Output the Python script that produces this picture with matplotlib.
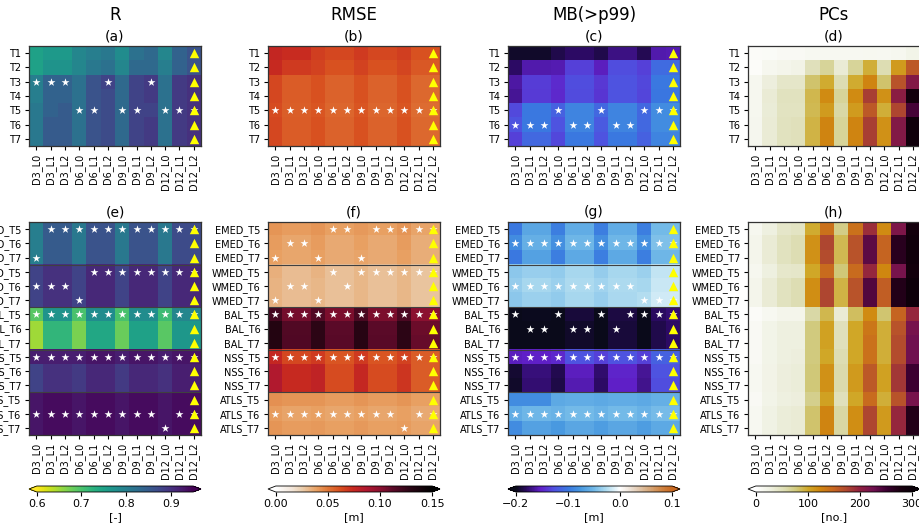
import numpy as np
import matplotlib
matplotlib.use('Agg')
import matplotlib.pyplot as plt
from matplotlib.colors import LinearSegmentedColormap, Normalize

# ---------------- data ----------------
col_labels = ['D3_L0', 'D3_L1', 'D3_L2', 'D6_L0', 'D6_L1', 'D6_L2',
              'D9_L0', 'D9_L1', 'D9_L2', 'D12_L0', 'D12_L1', 'D12_L2']
top_rows = ['T1', 'T2', 'T3', 'T4', 'T5', 'T6', 'T7']
regions = ['EMED', 'WMED', 'BAL', 'NSS', 'ATLS']
region_T = ['T5', 'T6', 'T7']
bot_rows = [f'{r}_{t}' for r in regions for t in region_T]

col_titles = ['R', 'RMSE', 'MB(>p99)', 'PCs']
top_letters = ['(a)', '(b)', '(c)', '(d)']
bot_letters = ['(e)', '(f)', '(g)', '(h)']
cbar_units = ['[-]', '[m]', '[m]', '[no.]']

R_top = [
    [0.75, 0.76, 0.76, 0.79, 0.80, 0.81, 0.78, 0.82, 0.83, 0.79, 0.84, 0.86],
    [0.75, 0.77, 0.77, 0.79, 0.81, 0.82, 0.79, 0.83, 0.83, 0.80, 0.84, 0.86],
    [0.80, 0.84, 0.84, 0.82, 0.86, 0.88, 0.83, 0.88, 0.89, 0.82, 0.89, 0.90],
    [0.80, 0.84, 0.84, 0.82, 0.86, 0.87, 0.83, 0.88, 0.89, 0.82, 0.89, 0.90],
    [0.81, 0.84, 0.85, 0.82, 0.86, 0.87, 0.83, 0.88, 0.88, 0.82, 0.89, 0.90],
    [0.81, 0.85, 0.85, 0.82, 0.86, 0.87, 0.83, 0.88, 0.89, 0.82, 0.89, 0.90],
    [0.81, 0.85, 0.85, 0.82, 0.86, 0.87, 0.83, 0.88, 0.89, 0.82, 0.89, 0.90],
]
RMSE_top = [
    [0.076, 0.073, 0.073, 0.067, 0.064, 0.064, 0.068, 0.064, 0.064, 0.067, 0.061, 0.061],
    [0.074, 0.068, 0.068, 0.066, 0.061, 0.061, 0.066, 0.061, 0.061, 0.065, 0.059, 0.059],
    [0.064, 0.058, 0.058, 0.061, 0.056, 0.056, 0.061, 0.056, 0.056, 0.061, 0.054, 0.054],
    [0.064, 0.058, 0.058, 0.061, 0.056, 0.056, 0.061, 0.056, 0.056, 0.061, 0.054, 0.054],
    [0.063, 0.057, 0.057, 0.060, 0.055, 0.055, 0.060, 0.055, 0.055, 0.060, 0.053, 0.053],
    [0.064, 0.058, 0.058, 0.061, 0.056, 0.056, 0.061, 0.056, 0.056, 0.061, 0.054, 0.054],
    [0.064, 0.058, 0.058, 0.061, 0.056, 0.056, 0.061, 0.056, 0.056, 0.061, 0.054, 0.054],
]
MB_top = [
    [-0.195, -0.195, -0.195, -0.185, -0.178, -0.178, -0.185, -0.170, -0.170, -0.183, -0.160, -0.158],
    [-0.178, -0.160, -0.160, -0.158, -0.135, -0.135, -0.155, -0.128, -0.128, -0.135, -0.108, -0.108],
    [-0.162, -0.137, -0.137, -0.147, -0.128, -0.128, -0.140, -0.124, -0.124, -0.132, -0.100, -0.100],
    [-0.165, -0.138, -0.138, -0.148, -0.129, -0.129, -0.141, -0.125, -0.125, -0.133, -0.101, -0.101],
    [-0.130, -0.100, -0.100, -0.115, -0.090, -0.090, -0.110, -0.090, -0.090, -0.110, -0.085, -0.085],
    [-0.125, -0.100, -0.100, -0.124, -0.090, -0.090, -0.120, -0.090, -0.090, -0.110, -0.085, -0.085],
    [-0.135, -0.110, -0.110, -0.132, -0.100, -0.100, -0.125, -0.100, -0.100, -0.115, -0.090, -0.090],
]
PC_top = [
    [6, 8, 10, 10, 12, 12, 12, 12, 14, 12, 15, 20],
    [5, 15, 18, 22, 50, 65, 35, 65, 95, 55, 110, 160],
    [15, 30, 42, 42, 82, 98, 55, 98, 125, 82, 165, 210],
    [15, 35, 48, 48, 90, 120, 65, 120, 180, 115, 205, 285],
    [15, 33, 46, 46, 88, 108, 60, 108, 160, 95, 175, 245],
    [16, 35, 48, 50, 92, 125, 65, 125, 180, 115, 210, 290],
    [16, 35, 48, 50, 92, 125, 65, 125, 180, 115, 210, 290],
]

R_bot = [
    [0.80, 0.85, 0.85, 0.81, 0.86, 0.86, 0.81, 0.86, 0.86, 0.81, 0.87, 0.87],
    [0.80, 0.85, 0.85, 0.81, 0.86, 0.86, 0.81, 0.86, 0.86, 0.81, 0.87, 0.87],
    [0.80, 0.85, 0.85, 0.81, 0.86, 0.86, 0.81, 0.86, 0.86, 0.81, 0.87, 0.87],
    [0.88, 0.90, 0.90, 0.88, 0.91, 0.91, 0.88, 0.91, 0.91, 0.88, 0.91, 0.91],
    [0.88, 0.90, 0.90, 0.88, 0.91, 0.91, 0.88, 0.91, 0.91, 0.88, 0.91, 0.91],
    [0.88, 0.90, 0.90, 0.88, 0.91, 0.91, 0.88, 0.91, 0.91, 0.88, 0.91, 0.91],
    [0.69, 0.77, 0.77, 0.70, 0.78, 0.78, 0.70, 0.78, 0.78, 0.71, 0.79, 0.79],
    [0.65, 0.72, 0.72, 0.67, 0.74, 0.74, 0.68, 0.75, 0.75, 0.69, 0.765, 0.765],
    [0.65, 0.72, 0.72, 0.67, 0.74, 0.74, 0.68, 0.75, 0.75, 0.69, 0.765, 0.765],
    [0.92, 0.92, 0.92, 0.92, 0.93, 0.93, 0.92, 0.93, 0.93, 0.92, 0.93, 0.93],
    [0.88, 0.90, 0.90, 0.89, 0.91, 0.91, 0.89, 0.91, 0.91, 0.90, 0.92, 0.92],
    [0.88, 0.90, 0.90, 0.89, 0.91, 0.91, 0.89, 0.91, 0.91, 0.90, 0.92, 0.92],
    [0.93, 0.94, 0.94, 0.93, 0.94, 0.94, 0.93, 0.94, 0.94, 0.93, 0.94, 0.94],
    [0.93, 0.94, 0.94, 0.93, 0.94, 0.94, 0.93, 0.94, 0.94, 0.93, 0.94, 0.94],
    [0.93, 0.94, 0.94, 0.93, 0.94, 0.94, 0.93, 0.94, 0.94, 0.93, 0.94, 0.94],
]
RMSE_bot = [
    [0.042, 0.040, 0.040, 0.042, 0.039, 0.039, 0.041, 0.039, 0.039, 0.042, 0.038, 0.038],
    [0.040, 0.037, 0.037, 0.040, 0.036, 0.036, 0.039, 0.036, 0.036, 0.040, 0.035, 0.035],
    [0.039, 0.037, 0.037, 0.039, 0.036, 0.036, 0.038, 0.036, 0.036, 0.039, 0.035, 0.035],
    [0.034, 0.030, 0.030, 0.033, 0.029, 0.029, 0.032, 0.029, 0.029, 0.032, 0.028, 0.028],
    [0.033, 0.030, 0.030, 0.032, 0.029, 0.029, 0.032, 0.029, 0.029, 0.032, 0.028, 0.028],
    [0.033, 0.030, 0.030, 0.032, 0.029, 0.029, 0.032, 0.029, 0.029, 0.032, 0.028, 0.028],
    [0.120, 0.106, 0.106, 0.115, 0.104, 0.104, 0.118, 0.104, 0.104, 0.117, 0.100, 0.100],
    [0.132, 0.115, 0.115, 0.128, 0.112, 0.112, 0.130, 0.112, 0.112, 0.128, 0.108, 0.108],
    [0.132, 0.116, 0.116, 0.128, 0.113, 0.113, 0.130, 0.113, 0.113, 0.128, 0.109, 0.109],
    [0.075, 0.064, 0.064, 0.068, 0.060, 0.060, 0.068, 0.060, 0.060, 0.066, 0.058, 0.058],
    [0.086, 0.074, 0.074, 0.078, 0.063, 0.063, 0.075, 0.063, 0.063, 0.070, 0.058, 0.058],
    [0.086, 0.074, 0.074, 0.078, 0.063, 0.063, 0.075, 0.063, 0.063, 0.070, 0.058, 0.058],
    [0.043, 0.042, 0.042, 0.042, 0.040, 0.040, 0.042, 0.040, 0.040, 0.042, 0.039, 0.039],
    [0.040, 0.038, 0.038, 0.039, 0.037, 0.037, 0.039, 0.037, 0.037, 0.039, 0.036, 0.036],
    [0.042, 0.040, 0.040, 0.041, 0.039, 0.039, 0.041, 0.039, 0.039, 0.040, 0.038, 0.038],
]
MB_bot = [
    [-0.100, -0.065, -0.065, -0.095, -0.060, -0.060, -0.095, -0.060, -0.060, -0.095, -0.050, -0.050],
    [-0.085, -0.058, -0.058, -0.082, -0.052, -0.052, -0.082, -0.052, -0.052, -0.082, -0.045, -0.045],
    [-0.100, -0.068, -0.068, -0.095, -0.062, -0.062, -0.095, -0.062, -0.062, -0.095, -0.052, -0.052],
    [-0.040, -0.035, -0.035, -0.038, -0.030, -0.030, -0.036, -0.030, -0.030, -0.034, -0.020, -0.020],
    [-0.036, -0.030, -0.030, -0.034, -0.027, -0.027, -0.032, -0.027, -0.027, -0.030, -0.018, -0.018],
    [-0.040, -0.034, -0.034, -0.038, -0.029, -0.029, -0.035, -0.028, -0.028, -0.025, -0.015, -0.015],
    [-0.205, -0.198, -0.198, -0.203, -0.190, -0.190, -0.203, -0.188, -0.188, -0.202, -0.180, -0.175],
    [-0.210, -0.200, -0.200, -0.208, -0.195, -0.195, -0.208, -0.190, -0.190, -0.206, -0.185, -0.178],
    [-0.210, -0.200, -0.200, -0.208, -0.195, -0.195, -0.208, -0.190, -0.190, -0.206, -0.185, -0.178],
    [-0.155, -0.152, -0.152, -0.148, -0.125, -0.125, -0.135, -0.125, -0.125, -0.135, -0.115, -0.115],
    [-0.192, -0.172, -0.172, -0.184, -0.155, -0.155, -0.176, -0.150, -0.150, -0.165, -0.125, -0.125],
    [-0.195, -0.175, -0.175, -0.186, -0.158, -0.158, -0.178, -0.152, -0.152, -0.168, -0.128, -0.128],
    [-0.085, -0.085, -0.085, -0.062, -0.060, -0.060, -0.062, -0.060, -0.060, -0.062, -0.058, -0.058],
    [-0.060, -0.052, -0.052, -0.055, -0.050, -0.050, -0.055, -0.050, -0.050, -0.055, -0.048, -0.048],
    [-0.085, -0.068, -0.068, -0.075, -0.065, -0.065, -0.072, -0.065, -0.065, -0.072, -0.062, -0.062],
]
PC_bot = [
    [15, 28, 42, 45, 98, 140, 72, 140, 190, 120, 215, 285],
    [18, 35, 48, 55, 115, 175, 88, 165, 235, 150, 265, 290],
    [18, 35, 48, 55, 115, 170, 88, 165, 235, 150, 265, 290],
    [15, 28, 40, 42, 100, 145, 78, 145, 195, 122, 220, 285],
    [18, 35, 48, 55, 118, 175, 92, 165, 240, 155, 270, 292],
    [18, 35, 48, 55, 118, 175, 92, 165, 240, 155, 270, 292],
    [6, 12, 18, 18, 60, 90, 35, 85, 120, 80, 150, 195],
    [10, 20, 28, 28, 75, 105, 50, 100, 135, 95, 165, 220],
    [10, 20, 28, 28, 75, 105, 50, 100, 140, 95, 170, 225],
    [10, 20, 28, 30, 75, 100, 55, 100, 140, 95, 170, 225],
    [12, 22, 30, 32, 78, 115, 58, 110, 160, 105, 185, 250],
    [12, 22, 30, 32, 78, 115, 58, 110, 160, 105, 185, 250],
    [10, 20, 28, 30, 70, 105, 50, 100, 145, 95, 165, 220],
    [12, 24, 32, 35, 82, 125, 62, 118, 175, 110, 195, 270],
    [12, 24, 32, 35, 82, 125, 62, 118, 175, 110, 195, 270],
]

# best row (star) per column: top panels use T index, bottom panels per region
star_top = {
    'R':    ['T3', 'T3', 'T3', 'T5', 'T5', 'T3', 'T5', 'T5', 'T3', 'T5', 'T5', 'T5'],
    'RMSE': ['T5'] * 12,
    'MB':   ['T6', 'T6', 'T6', 'T5', 'T6', 'T6', 'T5', 'T6', 'T6', 'T5', 'T5', 'T5'],
}
star_bot = {
    'R': {
        'EMED': ['T7', 'T5', 'T5', 'T5', 'T5', 'T5', 'T5', 'T5', 'T5', 'T5', 'T5', 'T5'],
        'WMED': ['T6', 'T6', 'T6', 'T7', 'T5', 'T5', 'T5', 'T5', 'T5', 'T5', 'T5', 'T5'],
        'BAL':  ['T5'] * 12,
        'NSS':  ['T5'] * 12,
        'ATLS': ['T6', 'T6', 'T6', 'T6', 'T6', 'T6', 'T6', 'T6', 'T6', 'T7', 'T6', 'T6'],
    },
    'RMSE': {
        'EMED': ['T7', 'T6', 'T6', 'T7', 'T5', 'T5', 'T7', 'T5', 'T5', 'T5', 'T5', 'T5'],
        'WMED': ['T7', 'T6', 'T6', 'T7', 'T5', 'T6', 'T5', 'T5', 'T5', 'T5', 'T5', 'T5'],
        'BAL':  ['T5'] * 12,
        'NSS':  ['T5'] * 12,
        'ATLS': ['T6', 'T6', 'T6', 'T6', 'T6', 'T6', 'T6', 'T6', 'T6', 'T7', 'T6', 'T6'],
    },
    'MB': {
        'EMED': ['T6'] * 12,
        'WMED': ['T6', 'T6', 'T6', 'T6', 'T6', 'T6', 'T6', 'T6', 'T6', 'T7', 'T7', 'T7'],
        'BAL':  ['T5', 'T6', 'T6', 'T5', 'T6', 'T6', 'T5', 'T6', 'T5', 'T5', 'T5', 'T5'],
        'NSS':  ['T5'] * 12,
        'ATLS': ['T6'] * 12,
    },
}

# ---------------- colormaps ----------------
cmap_R = plt.get_cmap('viridis_r')
cmap_RMSE = LinearSegmentedColormap.from_list('rmse', [
    (0.0, '#ffffff'), (0.10, '#f2e6da'), (0.16, '#ead0b2'), (0.26, '#e8a062'),
    (0.33, '#e07838'), (0.41, '#d85020'), (0.49, '#c82a20'), (0.58, '#b01830'),
    (0.67, '#8a1030'), (0.75, '#5a0a28'), (0.86, '#2a0515'), (1.0, '#000000')])
cmap_MB = LinearSegmentedColormap.from_list('mb', [
    (0.0, '#0a0a1a'), (0.067, '#2a0a60'), (0.157, '#6020c8'), (0.243, '#5050e0'),
    (0.333, '#3a78e0'), (0.413, '#4898e0'), (0.497, '#70b8e8'), (0.58, '#b0dcf0'),
    (0.667, '#ffffff'), (0.753, '#e8d8c8'), (0.837, '#d8b088'), (0.923, '#d08848'),
    (1.0, '#c86820')])
cmap_PC = LinearSegmentedColormap.from_list('pc', [
    (0.0, '#ffffff'), (0.093, '#eef0e0'), (0.187, '#dcdcb0'), (0.26, '#d0c878'),
    (0.333, '#d0a828'), (0.407, '#d08810'), (0.493, '#c86820'), (0.58, '#b04830'),
    (0.667, '#902040'), (0.753, '#701050'), (0.84, '#3a0030'), (0.923, '#1a0010'),
    (1.0, '#0a0008')])

specs = [
    ('R', R_top, R_bot, cmap_R, 0.6, 0.95, [0.6, 0.7, 0.8, 0.9], '{:.1f}'),
    ('RMSE', RMSE_top, RMSE_bot, cmap_RMSE, 0.0, 0.15, [0.0, 0.05, 0.10, 0.15], '{:.2f}'),
    ('MB', MB_top, MB_bot, cmap_MB, -0.2, 0.1, [-0.2, -0.1, 0.0, 0.1], '{:.1f}'),
    ('PC', PC_top, PC_bot, cmap_PC, 0, 300, [0, 100, 200, 300], '{:.0f}'),
]

# ---------------- figure ----------------
W, H = 919, 526
fig = plt.figure(figsize=(W / 100, H / 100), dpi=100)


def rect(x, y_top, w, h):
    return [x / W, 1 - (y_top + h) / H, w / W, h / H]


col_x = [29, 268, 508, 748]
pw = 172
tick_fs = 7


def style_axes(ax, rows):
    ax.set_xticks(range(len(col_labels)))
    ax.set_xticklabels(col_labels, rotation=90, fontsize=tick_fs)
    ax.set_yticks(range(len(rows)))
    ax.set_yticklabels(rows, fontsize=tick_fs)
    ax.tick_params(length=3, width=0.8, pad=2.5)
    for s in ax.spines.values():
        s.set_color('#333333')
        s.set_linewidth(0.9)


def draw_markers(ax, star_rows_idx, nrows):
    nc = len(col_labels)
    xs = [c for c, r in star_rows_idx]
    ys = [r for c, r in star_rows_idx]
    ax.scatter(xs, ys, marker='*', s=36, c='white', linewidths=0, zorder=3)
    ax.scatter([nc - 1] * nrows, list(range(nrows)), marker='^', s=46,
               c='#ffff00', linewidths=0, zorder=4)


for i, (key, top, bot, cmap, vmin, vmax, ticks, fmt) in enumerate(specs):
    norm = Normalize(vmin=vmin, vmax=vmax)
    x0 = col_x[i]
    # top
    axt = fig.add_axes(rect(x0, 46, pw, 100))
    im = axt.imshow(np.array(top), cmap=cmap, norm=norm, aspect='auto',
                    interpolation='nearest')
    style_axes(axt, top_rows)
    axt.set_title(top_letters[i], fontsize=10, pad=4)
    if key in star_top:
        pts = [(c, top_rows.index(t)) for c, t in enumerate(star_top[key])]
        draw_markers(axt, pts, len(top_rows))
    axt.set_xlim(-0.5, len(col_labels) - 0.5)
    axt.set_ylim(len(top_rows) - 0.5, -0.5)
    fig.text((x0 + pw / 2) / W, 1 - 15 / H, col_titles[i], ha='center',
             va='center', fontsize=12)

    # bottom
    axb = fig.add_axes(rect(x0, 222, pw, 213))
    axb.imshow(np.array(bot), cmap=cmap, norm=norm, aspect='auto',
               interpolation='nearest')
    style_axes(axb, bot_rows)
    axb.set_title(bot_letters[i], fontsize=10, pad=4)
    if key in star_bot:
        pts = []
        for g, reg in enumerate(regions):
            for c, t in enumerate(star_bot[key][reg]):
                pts.append((c, bot_rows.index(f'{reg}_{t}')))
        draw_markers(axb, pts, len(bot_rows))
        for k in range(1, len(regions)):
            axb.axhline(3 * k - 0.5, color='#404040', lw=0.8, zorder=2)
    axb.set_xlim(-0.5, len(col_labels) - 0.5)
    axb.set_ylim(len(bot_rows) - 0.5, -0.5)

    # colorbar
    cax = fig.add_axes(rect(x0, 486, pw, 6))
    cb = fig.colorbar(im, cax=cax, orientation='horizontal', extend='both')
    cb.set_ticks(ticks)
    cb.set_ticklabels([fmt.format(t).replace('-', '\u2212') for t in ticks])
    cb.ax.tick_params(labelsize=8, length=3, pad=2)
    cb.outline.set_linewidth(0.6)
    cb.set_label(cbar_units[i], fontsize=8, labelpad=2)

fig.savefig('out.png', dpi=100)
